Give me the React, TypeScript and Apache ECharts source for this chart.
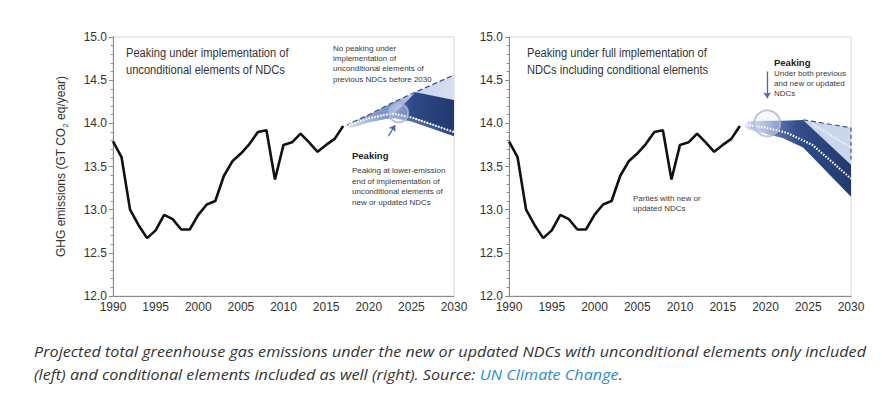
import React, { useEffect, useRef } from "react";
import * as echarts from "echarts";

// Historical emissions (both panels)
const years = [1990, 1991, 1992, 1993, 1994, 1995, 1996, 1997, 1998, 1999, 2000, 2001, 2002, 2003, 2004, 2005, 2006, 2007, 2008, 2009, 2010, 2011, 2012, 2013, 2014, 2015, 2016, 2017];
const emissions = [13.79, 13.61, 13.0, 12.82, 12.67, 12.76, 12.94, 12.89, 12.77, 12.77, 12.94, 13.06, 13.1, 13.39, 13.56, 13.65, 13.76, 13.9, 13.92, 13.35, 13.75, 13.78, 13.88, 13.78, 13.67, 13.75, 13.82, 13.97];

const xTicks = [1990, 1995, 2000, 2005, 2010, 2015, 2020, 2025, 2030];
const yTicks = [12.0, 12.5, 13.0, 13.5, 14.0, 14.5, 15.0];

// Left panel projections (unconditional)
const leftBandYears = [2017.3, 2018, 2020, 2022, 2023, 2025, 2030];
const leftDotted = [13.97, 13.99, 14.06, 14.1, 14.11, 14.07, 13.9];
const leftDashed = [13.97, 14.01, 14.1, 14.2, 14.25, 14.34, 14.56];
const leftShadowLower = [13.96, 13.95, 14.01, 14.05, 14.06, 14.02, 13.85];
const leftDarkYears = [2023, 2025.5, 2030];
const leftDarkLower = [14.11, 14.06, 13.9];
const leftDarkUpper = [14.11, 14.36, 14.27];
const leftPeak = [2023.5, 14.12];
const leftArrow = [[2022.3, 13.85], [2023.1, 13.98]];

// Right panel projections (incl. conditional)
const rightDarkYears = [2017.4, 2018, 2020, 2022, 2024.4, 2030];
const rightDarkLower = [13.97, 13.93, 13.88, 13.83, 13.72, 13.15];
const rightDarkUpper = [13.97, 14.02, 14.03, 14.03, 14.04, 13.52];
const rightDottedYears = [2017.4, 2018, 2020, 2022.5, 2025.5, 2030];
const rightDotted = [13.97, 13.98, 13.95, 13.89, 13.75, 13.36];
const rightLightYears = [2024.4, 2030];
const rightLightLower = [14.04, 13.52];
const rightLightUpper = [14.04, 13.95];
const rightEdge = [[2030, 13.95], [2030, 13.58]];
const rightFaintDotted = [[2025.5, 13.99], [2030, 13.72]];
const rightPeak = [2020.2, 14.0];
const rightArrow = [[2020.2, 14.6], [2020.2, 14.29]];

const FONT = "Liberation Sans, Arial, sans-serif";

function pairs(xs: number[], ys: number[]) {
  return xs.map((x, i) => [x, ys[i]]);
}

function grad(stops: [number, string][]) {
  return new echarts.graphic.LinearGradient(0, 0, 1, 0, stops.map(([offset, color]) => ({ offset, color })));
}

// A filled band between a lower and an upper edge, drawn through the axes' scales
function band(idx: number, xs: number[], lower: number[], upper: number[], fill: any, z = 2) {
  return {
    type: "custom",
    xAxisIndex: idx,
    yAxisIndex: idx,
    data: [[xs[0], lower[0]]],
    encode: { x: 0, y: 1 },
    silent: true,
    z,
    renderItem: (_params: any, api: any) => {
      const top = xs.map((x, i) => api.coord([x, upper[i]]));
      const bottom = xs.map((x, i) => api.coord([x, lower[i]])).reverse();
      return {
        type: "polygon",
        shape: { points: [...top, ...bottom] },
        style: { fill, stroke: "none" },
      };
    },
  };
}

export default function App() {
  const ref = useRef<HTMLDivElement>(null);
  useEffect(() => {
    document.body.style.margin = "0";
    const chart = echarts.init(ref.current!, null, { renderer: "svg" });

    const xAxis = (gi: number) => ({
      type: "value",
      gridIndex: gi,
      min: 1990,
      max: 2030,
      interval: 5,
      axisLine: { show: true, lineStyle: { color: "#8a8a8a", width: 1 } },
      axisTick: { show: false },
      splitLine: { show: false },
      axisLabel: {
        color: "#333",
        fontSize: 12,
        fontFamily: FONT,
        margin: 5,
        formatter: (v: number) => (xTicks.includes(v) ? String(v) : ""),
      },
    });
    const yAxis = (gi: number, withName: boolean) => ({
      type: "value",
      gridIndex: gi,
      min: 12,
      max: 15,
      interval: 0.5,
      axisLine: { show: true, lineStyle: { color: "#8a8a8a", width: 1 } },
      axisTick: { show: true, length: 4, lineStyle: { color: "#8a8a8a" } },
      minorTick: { show: true, splitNumber: 5, length: 2.5, lineStyle: { color: "#9a9a9a" } },
      splitLine: { show: false },
      minorSplitLine: { show: false },
      axisLabel: {
        color: "#333",
        fontSize: 12,
        fontFamily: FONT,
        margin: 6,
        formatter: (v: number) => (yTicks.some((t) => Math.abs(t - v) < 1e-6) ? v.toFixed(1) : ""),
      },
      name: withName ? "{a|GHG emissions (GT CO}{s|2}{a| eq/year)}" : "",
      nameLocation: "middle",
      nameGap: 44,
      nameTextStyle: {
        rich: {
          a: { fontSize: 12, color: "#333", fontFamily: FONT, lineHeight: 16, verticalAlign: "middle" },
          s: { fontSize: 8, color: "#333", fontFamily: FONT, lineHeight: 16, verticalAlign: "bottom" },
        },
      },
    });

    const line = (idx: number, data: number[][], lineStyle: any, z = 4) => ({
      type: "line", xAxisIndex: idx, yAxisIndex: idx, data, symbol: "none", lineStyle, z, silent: true,
    });

    const series: any[] = [];
    // Left panel
    series.push(line(0, pairs(years, emissions), { color: "#111", width: 2.6 }, 6));
    series.push(band(0, leftBandYears, leftShadowLower, leftDotted,
      grad([[0, "#dfe6f3"], [0.25, "#9cb0d8"], [0.55, "#5a74ae"], [1, "#2c4682"]]), 2));
    series.push(band(0, leftBandYears, leftDotted, leftDashed,
      grad([[0, "#dde5f3"], [0.06, "#b8c6e4"], [0.17, "#8ca1cf"], [0.41, "#7b92c6"], [0.57, "#b3c4e4"], [0.7, "#c9d6ec"], [1, "#d5dff0"]]), 2));
    series.push(band(0, leftDarkYears, leftDarkLower, leftDarkUpper,
      grad([[0, "#5a74ae"], [0.3, "#2e4a88"], [1, "#22386e"]]), 3));
    series.push(line(0, pairs(leftBandYears, leftDashed), { color: "#3f5488", width: 1.2, type: [5, 3] }));
    series.push(line(0, pairs(leftBandYears, leftDotted), { color: "#ffffff", width: 2.2, type: [1.5, 1.5] }));
    series.push({
      type: "scatter", xAxisIndex: 0, yAxisIndex: 0, data: [leftPeak], symbolSize: 19,
      itemStyle: { color: "rgba(232,238,249,0.45)", borderColor: "#a9b6d3", borderWidth: 2 }, z: 5, silent: true,
    });
    series.push({
      type: "lines", coordinateSystem: "cartesian2d", xAxisIndex: 0, yAxisIndex: 0,
      data: [{ coords: leftArrow }], symbol: ["none", "arrow"], symbolSize: 6,
      lineStyle: { color: "#4a67a6", width: 1.3, opacity: 1 }, z: 5, silent: true,
    });

    // Right panel
    series.push(line(1, pairs(years, emissions), { color: "#111", width: 2.6 }, 6));
    series.push(band(1, rightLightYears, rightLightLower, rightLightUpper, "#c9d6ec", 2));
    series.push(band(1, rightDarkYears, rightDarkLower, rightDarkUpper,
      grad([[0, "#e2e8f4"], [0.15, "#a3b5db"], [0.3, "#5d77b1"], [0.5, "#324d8a"], [1, "#22396f"]]), 3));
    series.push(line(1, pairs(rightLightYears, rightLightUpper), { color: "#3f5488", width: 1.2, type: [5, 3] }));
    series.push(line(1, rightEdge, { color: "#3f5488", width: 1.2, type: [4, 3] }));
    series.push(line(1, rightFaintDotted, { color: "#f2f5fb", width: 2, type: [1.5, 1.5] }));
    series.push(line(1, pairs(rightDottedYears, rightDotted), { color: "#ffffff", width: 2.2, type: [1.5, 1.5] }));
    series.push({
      type: "scatter", xAxisIndex: 1, yAxisIndex: 1, data: [rightPeak], symbolSize: 26,
      itemStyle: { color: "rgba(232,238,249,0.5)", borderColor: "#aeb9d4", borderWidth: 2 }, z: 5, silent: true,
    });
    series.push({
      type: "lines", coordinateSystem: "cartesian2d", xAxisIndex: 1, yAxisIndex: 1,
      data: [{ coords: rightArrow }], symbol: ["none", "arrow"], symbolSize: 6,
      lineStyle: { color: "#4a67a6", width: 1.3, opacity: 1 }, z: 5, silent: true,
    });

    const txt = (x: number, y: number, text: string, size: number, lh: number, extra: any = {}, scaleX = 1) => ({
      type: "text",
      x,
      y,
      scaleX,
      style: { text, fontSize: size, lineHeight: lh, fontFamily: FONT, fill: "#333", align: "left", verticalAlign: "top", ...extra },
      silent: true,
    });

    chart.setOption({
      animation: false,
      grid: [
        { left: 113, top: 37, width: 341, height: 259, show: true, borderColor: "#d6d6d6", borderWidth: 1 },
        { left: 509, top: 37, width: 342, height: 259, show: true, borderColor: "#d6d6d6", borderWidth: 1 },
      ],
      xAxis: [xAxis(0), xAxis(1)],
      yAxis: [yAxis(0, true), yAxis(1, false)],
      series,
      graphic: [
        txt(126, 44, "Peaking under implementation of\nunconditional elements of NDCs", 12.5, 17, {}, 0.89),
        txt(527, 44, "Peaking under full implementation of\nNDCs including conditional elements", 12.5, 17, {}, 0.89),
        txt(333, 43, "No peaking under\nimplementation of\nunconditional elements of\nprevious NDCs before 2030", 8, 10.3, { fill: "#3a3a3a" }),
        txt(352, 149, "Peaking", 9.5, 12, { fontWeight: "bold", fill: "#222" }),
        txt(352, 165, "Peaking at lower-emission\nend of implementation of\nunconditional elements of\nnew or updated NDCs", 8, 10.7, { fill: "#3a3a3a" }),
        txt(774, 56, "Peaking", 9.5, 12, { fontWeight: "bold", fill: "#222" }),
        txt(774, 69, "Under both previous\nand new or updated\nNDCs", 8, 9.7, { fill: "#3a3a3a" }),
        txt(633, 193, "Parties with new or\nupdated NDCs", 8, 10, { fill: "#3a3a3a" }),
        {
          type: "text",
          x: 34,
          y: 340,
          scaleX: 1.058,
          silent: true,
          style: {
            text: "Projected total greenhouse gas emissions under the new or updated NDCs with unconditional elements only included\n(left) and conditional elements included as well (right). Source: {link|UN Climate Change}.",
            fontSize: 15.3,
            lineHeight: 23,
            fontStyle: "italic",
            fontFamily: "Open Sans, sans-serif",
            fill: "#333",
            align: "left",
            verticalAlign: "top",
            rich: {
              link: { fontSize: 15.3, fontStyle: "italic", fontFamily: "Open Sans, sans-serif", fill: "#2b8ccf", color: "#2b8ccf" },
            },
          },
        },
      ],
    });
    return () => chart.dispose();
  }, []);
  return <div ref={ref} style={{ width: 884, height: 397 }} />;
}
